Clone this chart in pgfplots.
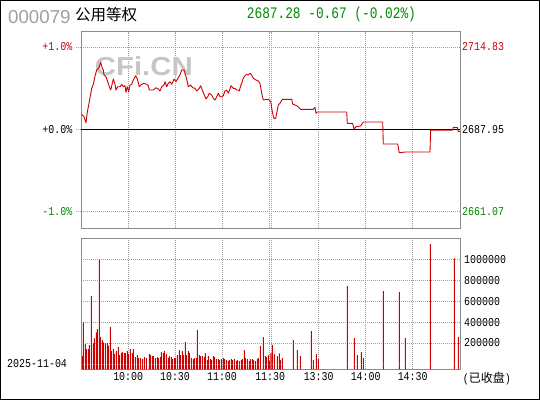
\documentclass[border=0pt]{standalone}
\usepackage{pgfplots}
\pgfplotsset{compat=1.18}
\usepackage{pgfplotstable}
\usepackage{fontspec}
\setmainfont{Liberation Sans}
\newfontfamily\tickfont[FakeStretch=0.83]{Liberation Mono}
\newfontfamily\titlefont[FakeStretch=0.8]{Liberation Mono}
\newfontfamily\cjk{Noto Sans CJK SC}
\definecolor{linered}{HTML}{D00000}
\definecolor{barred}{HTML}{CC0000}
\definecolor{txtred}{HTML}{CC0000}
\definecolor{txtgreen}{HTML}{008800}
\definecolor{gridgray}{HTML}{A0A0A0}
\definecolor{framegray}{HTML}{8C8C8C}
\definecolor{codegray}{HTML}{A0A0A0}

\pgfplotstableread{
m p
0.44 2692.84
1.90 2692.06
3.17 2690.10
3.99 2693.50
5.26 2696.95
6.78 2701.32
7.79 2702.63
9.05 2705.66
9.94 2707.29
10.95 2707.85
11.59 2708.37
12.47 2709.81
13.49 2707.85
14.12 2707.29
14.56 2705.66
15.83 2705.11
16.91 2703.48
17.92 2701.85
18.81 2700.77
19.82 2702.96
20.45 2704.36
21.53 2702.63
22.16 2700.77
23.24 2701.85
24.69 2701.85
25.77 2702.63
26.78 2701.85
27.86 2702.17
28.49 2700.02
29.32 2701.85
30.20 2700.22
31.03 2702.40
32.10 2702.63
33.12 2704.03
34.64 2705.43
35.65 2704.36
36.92 2701.85
38.44 2702.63
39.89 2702.96
41.60 2702.63
42.61 2702.17
43.25 2700.77
45.78 2700.77
47.49 2701.52
48.95 2701.10
50.02 2700.44
51.10 2701.85
52.56 2702.40
53.19 2703.48
54.27 2701.85
55.28 2702.96
56.36 2703.48
57.43 2702.63
58.44 2703.71
58.89 2704.36
60.15 2703.48
61.61 2704.78
62.69 2705.66
63.76 2707.29
65.22 2707.29
66.30 2705.43
67.31 2703.48
67.94 2701.85
69.46 2702.40
70.73 2701.52
72.18 2701.32
73.26 2700.44
74.91 2701.32
75.79 2702.17
76.81 2700.77
77.88 2699.37
79.15 2697.83
80.23 2698.58
81.24 2699.69
82.76 2699.14
83.77 2698.06
84.85 2697.51
85.93 2698.58
86.94 2699.69
88.02 2698.58
89.09 2698.58
90.10 2698.91
91.18 2700.44
92.26 2700.77
93.27 2699.69
94.35 2701.10
94.98 2702.17
96.44 2701.32
97.51 2701.32
98.59 2700.77
99.60 2700.77
100.24 2700.44
101.12 2702.17
101.76 2702.96
102.77 2704.59
103.85 2705.43
104.92 2705.89
105.94 2705.66
107.01 2706.22
108.09 2705.66
109.10 2704.59
110.81 2704.03
112.27 2703.71
113.35 2702.96
114.42 2699.69
115.44 2697.51
117.97 2697.74
119.24 2697.51
120.12 2696.95
121.14 2693.69
122.21 2691.54
123.29 2691.54
123.92 2693.17
124.93 2695.88
126.01 2696.43
127.47 2697.74
133.42 2697.74
134.05 2696.20
136.97 2695.55
139.12 2694.47
147.10 2694.47
148.18 2695.13
148.81 2693.17
149.63 2693.59
168.25 2693.59
168.63 2689.91
172.05 2689.91
172.87 2687.95
174.14 2688.80
177.11 2689.03
178.76 2690.33
191.04 2690.33
191.42 2683.15
200.54 2683.15
201.55 2680.32
205.35 2680.54
220.99 2680.54
221.43 2687.70
235.36 2687.70
235.74 2688.60
238.27 2688.60
238.91 2687.28
240.00 2687.28
}\price

\pgfplotstableread{
m v
0.82 79000
1.46 400000
2.72 193300
3.36 145700
4.62 145700
5.26 183800
6.52 650500
7.79 200000
8.42 247600
9.69 304800
10.32 336200
11.59 993400
12.22 260000
13.49 231400
14.12 209500
15.39 202900
16.65 202900
17.29 177100
18.55 355200
19.19 126700
20.45 145700
21.09 98100
22.35 126700
23.62 164800
24.25 88600
25.52 107600
26.15 117100
27.42 107600
28.05 107600
29.32 126700
29.95 98100
31.22 145700
32.48 107600
33.12 145700
34.38 69500
35.65 88600
36.28 60000
37.55 60000
38.81 50500
40.08 69500
41.35 60000
43.25 98100
43.88 88600
45.15 79000
45.78 79000
47.05 60000
48.31 69500
48.95 60000
50.21 69500
50.85 117100
52.11 107600
52.75 126700
54.01 98100
55.28 60000
55.91 79000
57.18 69500
57.81 50500
59.08 60000
59.71 60000
60.98 88600
62.24 136200
62.88 88600
64.14 126700
64.78 88600
66.04 212400
66.68 88600
67.94 126700
68.57 107600
69.84 60000
71.11 50500
71.74 60000
73.01 60000
73.64 326700
74.91 88600
75.54 79000
76.81 79000
78.07 69500
78.71 107600
79.97 41000
80.61 79000
81.87 50500
82.51 41000
83.77 79000
84.41 69500
85.67 50500
86.94 50500
87.57 41000
88.84 50500
90.10 60000
90.74 50500
92.00 41000
93.27 31400
93.90 41000
95.17 50500
95.80 41000
97.07 50500
98.33 31400
98.97 41000
100.24 31400
101.50 41000
102.14 50500
103.40 136200
104.04 60000
105.30 50500
106.57 31400
107.20 50500
108.47 50500
109.10 41000
110.37 31400
111.63 50500
112.27 60000
113.53 174300
115.43 260000
116.70 79000
117.33 69500
118.60 88600
119.24 31400
120.31 104800
121.14 183800
122.40 98100
124.30 79000
125.57 104800
126.20 41000
127.47 60000
134.43 231400
136.97 136200
138.86 79000
145.83 317100
147.10 41000
149.00 98100
150.26 50500
168.63 745700
173.06 250500
174.96 88600
177.49 117100
178.76 60000
191.42 698100
201.55 688600
205.35 250500
221.18 1145700
236.39 1009500
238.91 260000
}\vol

\pgfplotsset{
  panel/.style={
    scale only axis, width=379pt, anchor=south west,
    xmin=0, xmax=240,
    xtick={29.8,59.5,89.3,119.2,120.3,150.5,180.3,210},
    xticklabels={}, yticklabels={},
    scaled ticks=false,
    tick label style={text opacity=0},
    major tick length=0pt,
    grid=major,
    major grid style={gridgray, line width=0.8pt, dash pattern=on 1pt off 1pt},
    axis line style={framegray, line width=1pt},
    clip=false,
  },
}

\begin{document}
\begin{tikzpicture}[x=1pt,y=1pt]
\useasboundingbox (0,0) rectangle (540,400);

% price panel
\begin{axis}[panel, at={(81pt,171.7pt)}, height=196.6pt,
  ymin=2655.66, ymax=2719.79,
  ytick={2661.07,2714.83}]
  \node[text=codegray!60, font=\bfseries\fontsize{26}{26}\selectfont, xscale=1.13, inner sep=0pt]
    at (axis cs:39.8,2708.4) {CFi.CN};
  \addplot[black, line width=1.2pt] coordinates {(0,2687.95) (240,2687.95)};
  \addplot[linered, line width=0.9pt, line join=round] table[x=m, y=p] {\price};
\end{axis}

% volume panel
\begin{axis}[panel, at={(81pt,30.7pt)}, height=131pt,
  ymin=-47600, ymax=1200000,
  ytick={200000,400000,600000,800000,1000000}]
  \addplot[ybar, bar width=1pt, bar shift=0pt, fill=barred, draw=none]
    table[x=m, y expr=-47600] {\vol};
  \addplot[ybar, bar width=1pt, bar shift=0pt, fill=barred, draw=none]
    table[x=m, y=v] {\vol};
\end{axis}

% outside dotted ticks on the left of the price panel
\foreach \yy in {353.1,270.7,188.3}
  \draw[gridgray, line width=0.8pt, dash pattern=on 1pt off 1pt] (75.5,\yy) -- (81,\yy);

% frame
\draw[black, line width=1pt] (0.5,0.5) rectangle (539.5,399.5);

% header
\node[anchor=west, inner sep=0pt, text=codegray, font=\fontsize{18.7}{18.7}\selectfont] at (8,383.3) {000079};
\node[anchor=west, inner sep=0pt, font=\cjk\fontsize{15.5}{15.5}\selectfont] at (75,385) {公用等权};
\node[anchor=west, inner sep=0pt, text=txtgreen, font=\titlefont\fontsize{16}{16}\selectfont] at (246.7,386) {2687.28 -0.67 (-0.02\%)};

% left percent labels
\begin{scope}[every node/.style={inner sep=0pt, font=\tickfont\fontsize{12}{12}\selectfont}]
\node[anchor=east, text=txtred] at (72.5,353.1) {+1.0\%};
\node[anchor=east, text=black] at (72.5,270.7) {+0.0\%};
\node[anchor=east, text=txtgreen] at (72.5,188.3) {-1.0\%};
% right price labels
\node[anchor=west, text=txtred] at (462,353.1) {2714.83};
\node[anchor=west, text=black] at (462,270.7) {2687.95};
\node[anchor=west, text=txtgreen] at (462,188.3) {2661.07};
% volume labels
\node[anchor=west] at (464,140.7) {1000000};
\node[anchor=west] at (464,119.7) {800000};
\node[anchor=west] at (464,98.7) {600000};
\node[anchor=west] at (464,77.7) {400000};
\node[anchor=west] at (464,57.3) {200000};
% time labels
\node at (128.2,23.3) {10:00};
\node at (175,23.3) {10:30};
\node at (222,23.3) {11:00};
\node at (270.2,23.3) {11:30};
\node at (318.7,23.3) {13:30};
\node at (365.7,23.3) {14:00};
\node at (412.7,23.3) {14:30};
\node[anchor=west] at (7,36.7) {2025-11-04};
\node[anchor=west] at (462.7,21) {(\cjk\fontsize{12}{12}\selectfont 已收盘\tickfont)};
\end{scope}
\end{tikzpicture}
\end{document}
